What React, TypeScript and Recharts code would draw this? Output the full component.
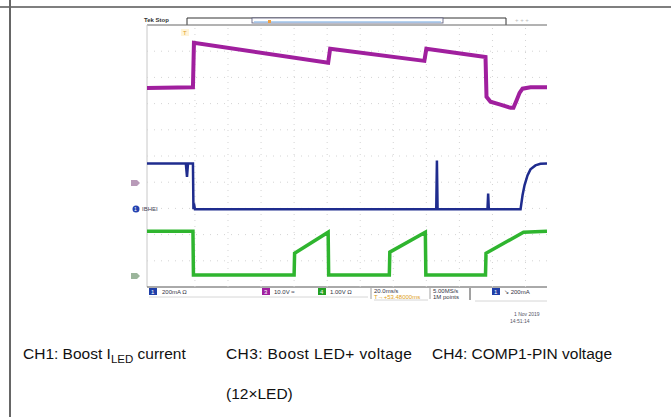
import { LineChart, Line, XAxis, YAxis, ReferenceLine } from 'recharts';

// time in ms (trigger at 0), value in screen divisions (0 = bottom, 10 = top)
const ch1Time = [-29, -1.2, -0.6, 80.6, 81.8, 138.8, 140, 175.8, 176.4, 178.8, 184.8, 190.9, 192.7, 194.5, 196.4, 198.2, 203, 213];
const ch1Value = [7.6, 7.62, 9.32, 8.56, 9.09, 8.63, 9.09, 8.78, 7.26, 7.07, 6.96, 6.84, 6.84, 7.11, 7.41, 7.57, 7.62, 7.62];

const ch3Time = [-29, -5.5, -4.8, -4.2, -1.2, -0.9, -0.6, 0, 146, 146.4, 146.8, 177, 177.4, 177.8, 197, 198.2, 199.4, 201.2, 203, 206, 209, 213];
const ch3Value = [4.71, 4.71, 4.2, 4.71, 4.71, 2.97, 3.19, 2.97, 2.97, 4.83, 2.97, 2.97, 3.57, 2.97, 2.97, 3.5, 3.88, 4.26, 4.49, 4.64, 4.7, 4.71];

const ch4Time = [-29, -1.2, -0.9, 60, 60.3, 80.6, 80.9, 117.6, 117.9, 139.4, 139.7, 175.8, 176.1, 198.8, 213];
const ch4Value = [2.13, 2.13, 0.46, 0.46, 1.29, 2.09, 0.46, 0.46, 1.33, 2.09, 0.46, 0.46, 1.29, 2.09, 2.13];

const timeGrid = [0, 20, 40, 60, 80, 100, 120, 140, 160, 180, 200];
const divGrid = [1, 2, 3, 4, 5, 6, 7, 8, 9];

const captions = ['CH1: Boost ', 'LED', ' current', 'CH3: Boost LED+ voltage', '(12×LED)', 'CH4: COMP1-PIN voltage'];

const zip = (t: number[], v: number[]) => t.map((x, i) => ({ t: x, v: v[i] }));

const ch1 = zip(ch1Time, ch1Value);
const ch3 = zip(ch3Time, ch3Value);
const ch4 = zip(ch4Time, ch4Value);

const tiny = { fontFamily: 'Liberation Sans, Arial, sans-serif', fontSize: 6 };

const ScopeDecor = () => (
    <svg width={671} height={417} style={{ position: 'absolute', left: 0, top: 0 }}>
        {/* table cell borders */}
        <line x1={0} y1={7} x2={671} y2={7} stroke="#555" strokeWidth={1.5} />
        <line x1={10} y1={0} x2={10} y2={417} stroke="#666" strokeWidth={2} />

        {/* top bar */}
        <text x={144} y={22} style={{ ...tiny, fontWeight: 700 }} fill="#333">Tek Stop</text>
        <polyline points="187,25 187,18 506,18 506,25" fill="none" stroke="#333" strokeWidth={1} />
        <rect x={252} y={18} width={191} height={5} fill="#fff" stroke="#557" strokeWidth={0.8} />
        <line x1={254} y1={22} x2={441} y2={22} stroke="#9fc3ea" strokeWidth={1.5} />
        <rect x={268} y={20} width={3} height={3} fill="#f0a040" />
        <text x={515} y={22} style={tiny} fill="#bbb">+ + +</text>
        <line x1={147} y1={25} x2={547} y2={25} stroke="#666" strokeWidth={1} />

        {/* screen frame */}
        <line x1={147} y1={25} x2={147} y2={287} stroke="#c8c8c8" strokeWidth={1} />
        <line x1={147} y1={287} x2={547} y2={287} stroke="#555" strokeWidth={1} />

        {/* trigger marker */}
        <rect x={181} y={29} width={8} height={7} fill="#fff4d8" />
        <text x={183} y={35} style={tiny} fill="#e0a030">T</text>

        {/* channel markers */}
        <path d="M131,180 h6 l3,3 l-3,3 h-6 z" fill="#b89ab8" />
        <circle cx={136} cy={209} r={3.5} fill="#2442b0" />
        <text x={134} y={211} style={{ ...tiny, fontSize: 5 }} fill="#fff">1</text>
        <text x={142} y={211} style={tiny} fill="#445">IBHEI</text>
        <path d="M131,273 h6 l3,3 l-3,3 h-6 z" fill="#9bb59b" />

        {/* status bar */}
        <rect x={149} y={288} width={8} height={7} fill="#1f3fa8" />
        <text x={151} y={294} style={tiny} fill="#fff">1</text>
        <text x={162} y={294} style={tiny} fill="#334">200mA   Ω</text>
        <rect x={262} y={288} width={8} height={7} fill="#a020a0" />
        <text x={264} y={294} style={tiny} fill="#fff">3</text>
        <text x={274} y={294} style={tiny} fill="#334">10.0V  ≈</text>
        <rect x={318} y={288} width={8} height={7} fill="#22a022" />
        <text x={320} y={294} style={tiny} fill="#fff">4</text>
        <text x={330} y={294} style={tiny} fill="#334">1.00V    Ω</text>
        <line x1={149} y1={297} x2={368} y2={297} stroke="#ccc" strokeWidth={0.8} />
        <line x1={371} y1={288} x2={371} y2={299} stroke="#888" strokeWidth={0.8} />
        <text x={374} y={293} style={tiny} fill="#334">20.0ms/s</text>
        <text x={374} y={299} style={tiny} fill="#e0a020">T→+53.48000ms</text>
        <line x1={374} y1={300} x2={428} y2={300} stroke="#ccc" strokeWidth={0.8} />
        <line x1={430} y1={288} x2={430} y2={299} stroke="#888" strokeWidth={0.8} />
        <text x={433} y={293} style={tiny} fill="#334">5.00MS/s</text>
        <text x={433} y={299} style={tiny} fill="#334">1M points</text>
        <line x1={470} y1={288} x2={470} y2={300} stroke="#444" strokeWidth={1} />
        <rect x={492} y={288} width={8} height={7} fill="#1f3fa8" />
        <text x={494} y={294} style={tiny} fill="#fff">1</text>
        <text x={504} y={294} style={tiny} fill="#334">↘     200mA</text>
        <line x1={475} y1={301} x2={547} y2={301} stroke="#ccc" strokeWidth={0.8} />
        <text x={514} y={316} style={{ ...tiny, fontSize: 5 }} fill="#556">1 Nov 2019</text>
        <text x={510} y={323} style={{ ...tiny, fontSize: 5 }} fill="#556">14:51:14</text>
    </svg>
);

const captionStyle = {
    position: 'absolute' as const,
    fontFamily: 'Liberation Sans, Arial, sans-serif',
    fontSize: 15.5,
    color: '#111',
    whiteSpace: 'nowrap' as const,
    lineHeight: '18px',
};

const App = () => {
    return (
        <div style={{ position: 'absolute', left: 0, top: 0, width: 671, height: 417, background: '#fff', overflow: 'hidden' }}>
            <ScopeDecor />
            <div style={{ position: 'absolute', left: 147, top: 25 }}>
                <LineChart width={400} height={262} margin={{ top: 0, right: 0, bottom: 0, left: 0 }}>
                    <XAxis type="number" dataKey="t" domain={[-29, 213]} hide allowDataOverflow />
                    <YAxis type="number" dataKey="v" domain={[0, 10]} hide allowDataOverflow />
                    {timeGrid.map((g) => (
                        <ReferenceLine key={`x-${g}`} x={g} stroke="#d4d4d4" strokeDasharray="1 5" strokeWidth={1} />
                    ))}
                    {divGrid.map((g) => (
                        <ReferenceLine key={`y-${g}`} y={g} stroke="#d4d4d4" strokeDasharray="1 6" strokeWidth={1} />
                    ))}
                    <Line data={ch1} dataKey="v" type="linear" stroke="#a01f9e" strokeWidth={4} dot={false} isAnimationActive={false} />
                    <Line data={ch3} dataKey="v" type="linear" stroke="#1f2c8e" strokeWidth={2.5} dot={false} isAnimationActive={false} />
                    <Line data={ch4} dataKey="v" type="linear" stroke="#2fb52f" strokeWidth={3.5} dot={false} isAnimationActive={false} />
                </LineChart>
            </div>

            <div style={{ ...captionStyle, left: 23, top: 345 }}>
                {captions[0]}I<sub style={{ fontSize: 11.5, verticalAlign: '-4px', lineHeight: 0 }}>{captions[1]}</sub>{captions[2]}
            </div>
            <div style={{ ...captionStyle, left: 226, top: 345, letterSpacing: 0.4 }}>{captions[3]}</div>
            <div style={{ ...captionStyle, left: 226, top: 385 }}>{captions[4]}</div>
            <div style={{ ...captionStyle, left: 432, top: 345 }}>{captions[5]}</div>
        </div>
    );
};

export default App;
